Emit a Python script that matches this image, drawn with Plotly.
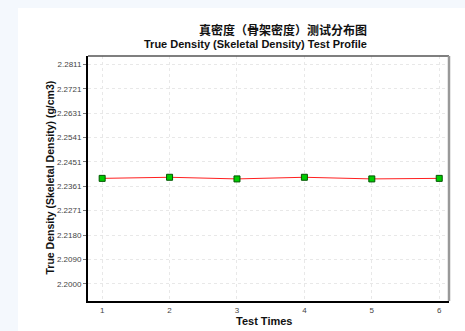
import plotly.graph_objects as go

test_times = [1, 2, 3, 4, 5, 6]
density = [2.2390, 2.2394, 2.2388, 2.2394, 2.2388, 2.2390]
y_tick_vals = [2.2000, 2.2090, 2.2180, 2.2271, 2.2361, 2.2451, 2.2541, 2.2631, 2.2721, 2.2811]
y_tick_text = ["2.2000", "2.2090", "2.2180", "2.2271", "2.2361", "2.2451", "2.2541", "2.2631", "2.2721", "2.2811"]
title_cn = "真密度（骨架密度）测试分布图"
title_en = "True Density (Skeletal Density) Test Profile"
x_title = "Test Times"
y_title = "True Density (Skeletal Density) (g/cm3)"

W, H = 465, 331
L, R, T, B = 88, 449, 56, 301

def px(x):
    return (x - L) / (R - L)

def py(y):
    return (B - y) / (B - T)

fig = go.Figure()
fig.add_trace(go.Scatter(
    x=test_times, y=density, mode="lines+markers",
    line=dict(color="#ff2020", width=1),
    marker=dict(symbol="square", size=6, color="#00cc00",
                line=dict(color="#005500", width=1)),
    showlegend=False,
))

fig.update_layout(
    width=W, height=H,
    margin=dict(l=L, r=W - R, t=T, b=H - B),
    paper_bgcolor="#f4f8fd",
    plot_bgcolor="white",
    xaxis=dict(range=[0.79, 6.145], tickvals=test_times, ticks="",
               showgrid=True, gridcolor="#e8e8e8", griddash="dot", gridwidth=1,
               showline=True, linecolor="black", linewidth=2, zeroline=False,
               tickfont=dict(family="Liberation Sans", size=8, color="#444444")),
    yaxis=dict(range=[2.1936, 2.2843], tickvals=y_tick_vals, ticktext=y_tick_text,
               ticks="outside", ticklen=3, tickcolor="#777777",
               showgrid=True, gridcolor="#e8e8e8", griddash="dot", gridwidth=1,
               showline=True, linecolor="black", linewidth=2, zeroline=False,
               tickfont=dict(family="Liberation Sans", size=8, color="#444444")),
    font=dict(family="Liberation Sans"),
)

shapes = [
    dict(type="rect", xref="paper", yref="paper", x0=px(18), x1=px(470), y0=py(8), y1=py(340),
         fillcolor="white", line=dict(width=0), layer="below"),
    dict(type="line", xref="paper", yref="paper", x0=0, x1=1, y0=1, y1=1,
         line=dict(color="#555555", width=1.5)),
    dict(type="line", xref="paper", yref="paper", x0=1, x1=1, y0=0, y1=1,
         line=dict(color="#999999", width=2.5)),
]
fig.update_layout(shapes=shapes)

ann = [
    dict(text="<b>" + title_cn + "</b>", x=px(283), y=py(29), xref="paper", yref="paper",
         showarrow=False, xanchor="center", yanchor="middle",
         font=dict(family="Noto Sans CJK SC", size=12, color="#111111")),
    dict(text="<b>" + title_en + "</b>", x=px(255), y=py(43.5), xref="paper", yref="paper",
         showarrow=False, xanchor="center", yanchor="middle",
         font=dict(family="Liberation Sans", size=11, color="#111111")),
    dict(text="<b>" + x_title + "</b>", x=px(264), y=py(321), xref="paper", yref="paper",
         showarrow=False, xanchor="center", yanchor="middle",
         font=dict(family="Liberation Sans", size=11, color="#111111")),
    dict(text="<b>" + y_title + "</b>", x=px(49), y=py(177.5), xref="paper", yref="paper",
         showarrow=False, xanchor="center", yanchor="middle", textangle=-90,
         font=dict(family="Liberation Sans", size=10.5, color="#111111")),
]
fig.update_layout(annotations=ann)

fig.write_html("out.html", config={"displayModeBar": False},
               post_script="document.body.style.margin='0';document.body.style.background='#f4f8fd';")
